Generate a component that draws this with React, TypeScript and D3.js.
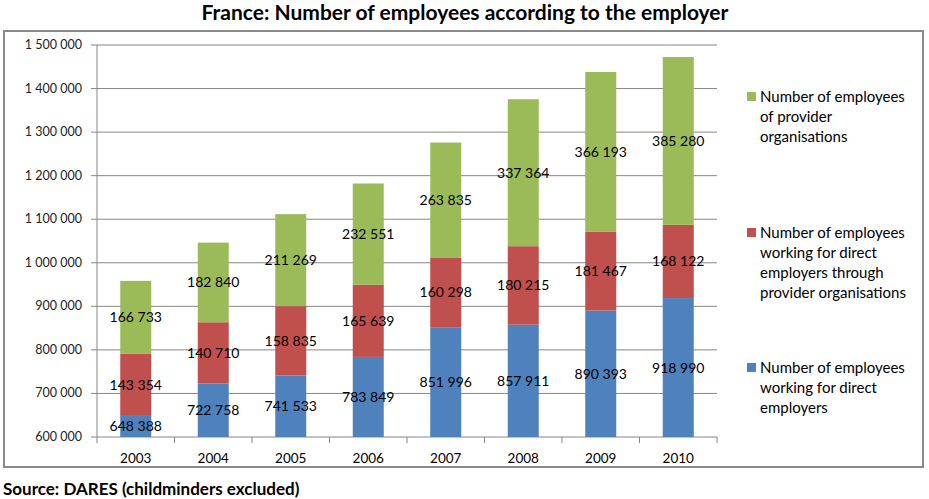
import React from "react";
import * as d3 from "d3";

const years = ["2003", "2004", "2005", "2006", "2007", "2008", "2009", "2010"];
const directEmployers = [648388, 722758, 741533, 783849, 851996, 857911, 890393, 918990];
const throughProviders = [143354, 140710, 158835, 165639, 160298, 180215, 181467, 168122];
const providerOrgs = [166733, 182840, 211269, 232551, 263835, 337364, 366193, 385280];
const yTicks = [600000, 700000, 800000, 900000, 1000000, 1100000, 1200000, 1300000, 1400000, 1500000];

const seriesNames = ["direct", "through", "provider"];
const seriesColors = ["#4F81BD", "#C0504D", "#9BBB59"];
const legendItems = [
  { lines: ["Number of employees", "of provider", "organisations"], color: "#9BBB59" },
  { lines: ["Number of employees", "working for direct", "employers through", "provider organisations"], color: "#C0504D" },
  { lines: ["Number of employees", "working for direct", "employers"], color: "#4F81BD" },
];

const fmt = (v: number) => d3.format(",")(v).replace(/,/g, " ");
const FONT = "Lato, 'Open Sans', sans-serif";

export default function App() {
  const W = 929, H = 499;
  const left = 97, right = 717, top = 45, bottom = 437;
  const x = d3.scaleBand().domain(years).range([left, right]).paddingInner(0.6).paddingOuter(0.3);
  const y = d3.scaleLinear().domain([600000, 1500000]).range([bottom, top]);

  const table = years.map((yr, i) => ({
    year: yr,
    direct: directEmployers[i],
    through: throughProviders[i],
    provider: providerOrgs[i],
  }));
  const stacked = d3.stack<any>().keys(seriesNames)(table);
  const step = (right - left) / years.length;

  return (
    <svg width={W} height={H} style={{ position: "absolute", left: 0, top: 0, background: "#fff" }}>
      <rect x={0} y={0} width={W} height={H} fill="#fff" />
      <text x={465} y={20} textAnchor="middle" fontFamily={FONT} fontWeight="bold" fontSize={21} fill="#000">
        France: Number of employees according to the employer
      </text>
      <rect x={4} y={31} width={919} height={436} fill="none" stroke="#8a8a8a" strokeWidth={2} />
      {yTicks.map((t) => (
        <g key={t}>
          <line x1={left - 6} x2={right} y1={y(t)} y2={y(t)} stroke="#868686" strokeWidth={1} />
          <text x={82} y={y(t) + 4} textAnchor="end" fontFamily={FONT} fontSize={12.5} fill="#222">
            {fmt(t)}
          </text>
        </g>
      ))}
      <line x1={left} x2={left} y1={top} y2={bottom} stroke="#868686" />
      {years.map((yr, i) => (
        <line key={"t" + yr} x1={left + step * (i + 1)} x2={left + step * (i + 1)} y1={bottom} y2={bottom + 6} stroke="#868686" />
      ))}
      <line x1={left} x2={left} y1={bottom} y2={bottom + 6} stroke="#868686" />
      {stacked.map((s, si) => (
        <g key={s.key}>
          {s.map((d: any, i: number) => (
            <rect
              key={i}
              x={x(years[i])}
              width={x.bandwidth()}
              y={y(d[1])}
              height={y(Math.max(d[0], 600000)) - y(d[1])}
              fill={seriesColors[si]}
            />
          ))}
        </g>
      ))}
      {stacked.map((s, si) => (
        <g key={"l" + s.key}>
          {s.map((d: any, i: number) => {
            const lo = Math.max(d[0], 600000);
            const mid = (lo + d[1]) / 2;
            return (
              <text
                key={i}
                x={(x(years[i]) as number) + x.bandwidth() / 2}
                y={y(mid) + 5}
                textAnchor="middle"
                fontFamily={FONT}
                fontSize={14}
                fill="#000"
              >
                {fmt(d[1] - d[0])}
              </text>
            );
          })}
        </g>
      ))}
      {years.map((yr) => (
        <text key={"x" + yr} x={(x(yr) as number) + x.bandwidth() / 2} y={463} textAnchor="middle" fontFamily={FONT} fontSize={13.5} fill="#000">
          {yr}
        </text>
      ))}
      {legendItems.map((it, li) => {
        const y0 = [97, 233, 368][li];
        return (
          <g key={li}>
            <rect x={747} y={y0 - 5} width={9} height={9} fill={it.color} />
            {it.lines.map((ln, k) => (
              <text key={k} x={760} y={y0 + 5 + k * 20} fontFamily={FONT} fontSize={15} fill="#000">
                {ln}
              </text>
            ))}
          </g>
        );
      })}
      <text x={3} y={495} fontFamily={FONT} fontWeight="bold" fontSize={17} fill="#000">
        Source: DARES (childminders excluded)
      </text>
    </svg>
  );
}
